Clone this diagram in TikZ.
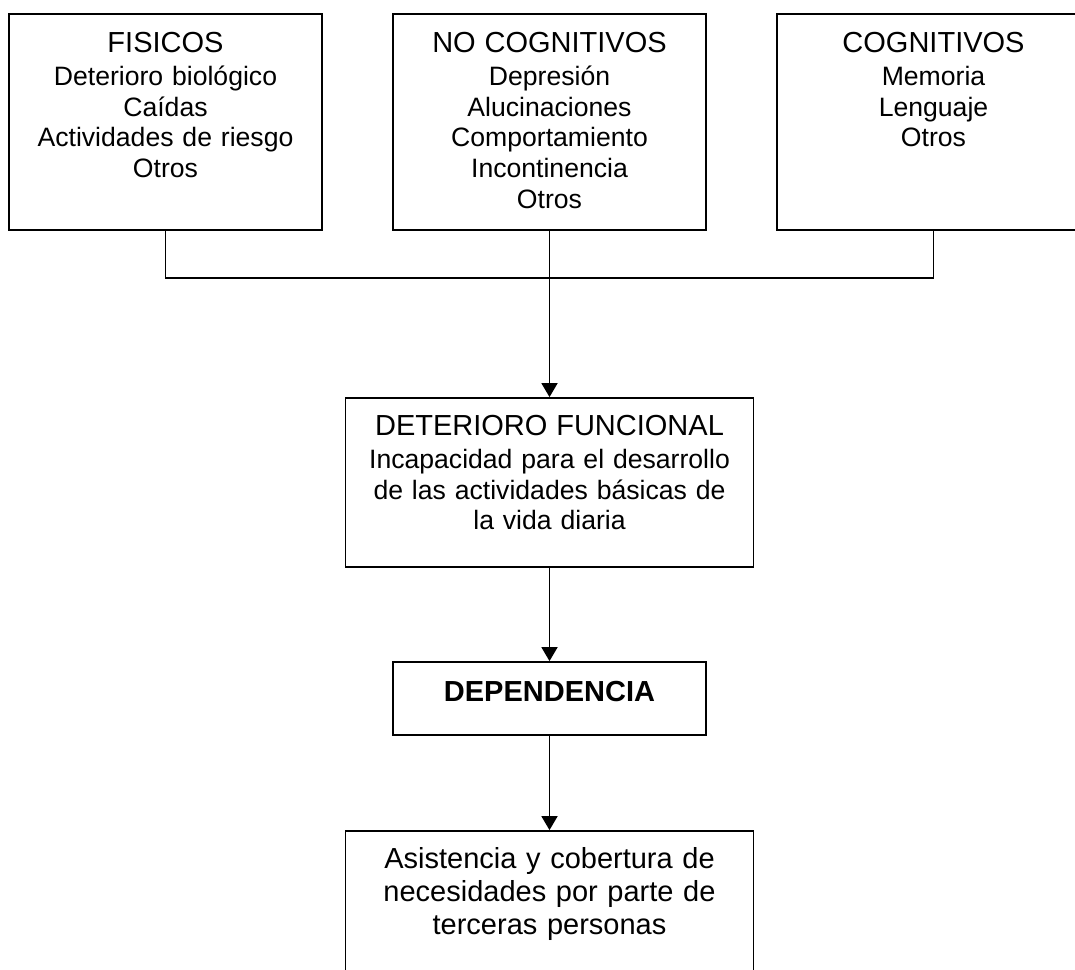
\documentclass[tikz,border=0pt]{standalone}
\usepackage{fontspec}
\setmainfont{Liberation Sans}
\usetikzlibrary{arrows.meta}
\newcommand\hdfont{\fontsize{29}{33.3}\selectfont}
\newcommand\bdfont{\fontsize{26.6}{30.6}\selectfont}
\begin{document}
\begin{tikzpicture}[x=1pt,y=-1pt,
  boxshape/.style={draw,line width=1.6pt,inner sep=0pt,minimum width=313pt,minimum height=216pt},
  widebox/.style={draw,line width=1.8pt,inner sep=0pt,minimum width=408pt,minimum height=169pt},
  depbox/.style={draw,line width=1.8pt,inner sep=0pt,minimum width=313pt,minimum height=73pt},
  txt/.style={anchor=north,inner sep=0pt,text width=400pt,align=center,font=\bdfont},
  conn/.style={line width=1.8pt},
  arr/.style={line width=1.8pt,-{Triangle[length=14pt,width=16pt]}}]
\useasboundingbox (0,0) rectangle (1075,969);
% boxes
\node[boxshape] (fis) at (165.5,122) {};
\node[boxshape] (nocog) at (549.5,122) {};
\node[boxshape] (cog) at (933.5,122) {};
\node[widebox] (df) at (549.5,482.5) {};
\node[depbox] (dep) at (549.5,698.5) {};
\node[widebox] (asis) at (549.5,915.5) {};
% texts
\node[txt] (tfis) at (165.5,32) {{\hdfont FISICOS}\\[2.7pt]Deterioro biológico\\Caídas\\Actividades de riesgo\\Otros};
\node[txt] (tnocog) at (549.5,32) {{\hdfont NO COGNITIVOS}\\[2.7pt]Depresión\\Alucinaciones\\Comportamiento\\Incontinencia\\Otros};
\node[txt] (tcog) at (933.5,32) {{\hdfont COGNITIVOS}\\[2.7pt]Memoria\\Lenguaje\\Otros};
\node[txt] (tdf) at (549.5,415) {{\hdfont DETERIORO FUNCIONAL}\\[2.7pt]Incapacidad para el desarrollo\\de las actividades básicas de\\la vida diaria};
\node[txt,font=\hdfont\bfseries] (tdep) at (549.5,681) {DEPENDENCIA};
\node[txt,font=\hdfont] (tasis) at (549.5,847) {Asistencia y cobertura de\\necesidades por parte de\\terceras personas};
% connectors
\coordinate (j) at (549.5,278);
\draw[conn] (fis.south) |- (j) -| (cog.south);
\draw[arr] (nocog.south) -- (df.north);
\draw[arr] (df.south) -- (dep.north);
\draw[arr] (dep.south) -- (asis.north);
\end{tikzpicture}
\end{document}
